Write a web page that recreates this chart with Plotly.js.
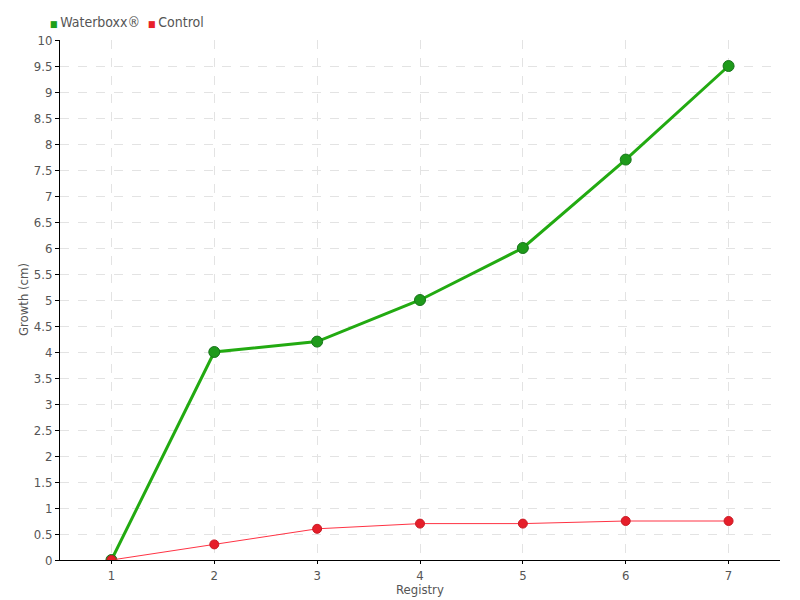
<!DOCTYPE html>
<html>
<head>
<meta charset="utf-8">
<script src="https://cdn.plot.ly/plotly-3.0.1.min.js"></script>
<style>body{margin:0;padding:0;} #chart{width:800px;height:600px;}</style>
</head>
<body>
<div id="chart"></div>
<script>
const registry = [1, 2, 3, 4, 5, 6, 7];
const waterboxx = [0, 4, 4.2, 5, 6, 7.7, 9.5];
const control = [0, 0.3, 0.6, 0.7, 0.7, 0.75, 0.75];
const yTicks = [0,0.5,1,1.5,2,2.5,3,3.5,4,4.5,5,5.5,6,6.5,7,7.5,8,8.5,9,9.5,10];
const seriesNames = ['Waterboxx®', 'Control'];
const seriesColors = ['#1ea01a', '#e81e2a'];

const fontFam = '"DejaVu Sans Condensed", "DejaVu Sans", sans-serif';

const traces = [
  {
    x: registry, y: waterboxx, name: seriesNames[0], type: 'scatter', mode: 'lines+markers',
    line: {color: '#22aa11', width: 3},
    marker: {color: '#1e9a1a', size: 11, line: {color: '#17751a', width: 1}},
    showlegend: false
  },
  {
    x: registry, y: control, name: seriesNames[1], type: 'scatter', mode: 'lines+markers',
    line: {color: '#ff3344', width: 1},
    marker: {color: '#e61e2a', size: 9, line: {color: '#c81a24', width: 1}},
    showlegend: false
  }
];

const legendText = seriesNames.map((n, i) =>
  '<span style="color:' + seriesColors[i] + ';font-size:9px">■</span>\u2009' + n).join('  ');

const layout = {
  width: 800, height: 600,
  margin: {l: 60, r: 20, t: 40, b: 40, autoexpand: false},
  paper_bgcolor: '#ffffff', plot_bgcolor: '#ffffff',
  font: {family: fontFam, color: '#555555', size: 13},
  showlegend: false,
  annotations: [
    {
      xref: 'paper', yref: 'paper', x: -0.017, y: 1.0, xanchor: 'left', yanchor: 'bottom',
      yshift: 8, showarrow: false, text: legendText,
      font: {size: 14, color: '#555555', family: fontFam}
    },
    {
      xref: 'paper', yref: 'paper', x: 0.5, y: 0, xanchor: 'center', yanchor: 'middle',
      yshift: -29, showarrow: false, text: 'Registry',
      font: {size: 13, color: '#555555', family: fontFam}
    },
    {
      xref: 'paper', yref: 'paper', x: 0, y: 0.5, xanchor: 'center', yanchor: 'middle',
      xshift: -37, showarrow: false, text: 'Growth (cm)', textangle: -90,
      font: {size: 13, color: '#555555', family: fontFam}
    }
  ],
  xaxis: {
    range: [0.5, 7.5], tickvals: registry, ticktext: registry.map(String),
    showline: true, linecolor: '#000000', linewidth: 1,
    ticks: 'outside', ticklen: 3, tickcolor: '#000000',
    showgrid: true, gridcolor: '#e3e3e3', griddash: 'dash', zeroline: false,
    tickfont: {size: 13, color: '#555555'}
  },
  yaxis: {
    range: [0, 10], tickvals: yTicks, ticktext: yTicks.map(String),
    showline: true, linecolor: '#000000', linewidth: 1,
    ticks: 'outside', ticklen: 4, tickcolor: '#000000',
    showgrid: true, gridcolor: '#e3e3e3', griddash: 'dash', zeroline: false,
    tickfont: {size: 13, color: '#555555'}
  }
};

Plotly.newPlot('chart', traces, layout, {displayModeBar: false});
</script>
</body>
</html>
